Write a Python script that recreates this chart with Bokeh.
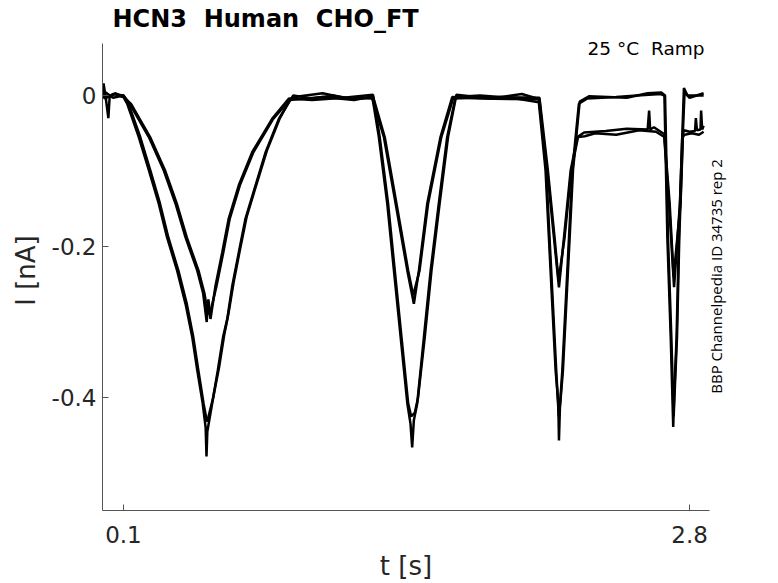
import math
from bokeh.plotting import figure
from bokeh.models import Range1d, FixedTicker, Label, LinearAxis
from bokeh.embed import file_html
from bokeh.resources import INLINE

# ---------------- data ----------------
title_text = "HCN3 \u00a0Human \u00a0CHO_FT"
cond_text = "25 °C \u00a0Ramp"
id_text = "BBP Channelpedia ID 34735 rep 2"
x_label = "t [s]"
y_label = "I [nA]"

x_ticks = [0.1, 2.8]
x_tick_labels = ["0.1", "2.8"]
y_ticks = [-0.4, -0.2, 0.0]
y_tick_labels = ["-0.4", "-0.2", "0"]

# deep traces (larger current)
deep_a_t = [0.000, 0.005, 0.015, 0.028, 0.034, 0.060, 0.100, 0.118, 0.173, 0.221, 0.268, 0.308,
            0.356, 0.396, 0.428, 0.452, 0.478, 0.492, 0.496, 0.500, 0.523, 0.550, 0.575, 0.595,
            0.619, 0.650, 0.682, 0.730, 0.778, 0.841, 0.889, 0.910, 1.000, 1.100, 1.200, 1.287,
            1.318, 1.358, 1.390, 1.422, 1.454, 1.469, 1.477, 1.485, 1.501, 1.533, 1.565, 1.604,
            1.644, 1.684, 1.800, 1.950, 2.081, 2.113, 2.129, 2.145, 2.161, 2.174, 2.177, 2.182,
            2.193, 2.209, 2.225, 2.241, 2.272, 2.312, 2.450, 2.550, 2.662, 2.680, 2.694, 2.710,
            2.722, 2.726, 2.738, 2.749, 2.765, 2.773, 2.790, 2.867]
deep_a_i = [0.000, 0.016, -0.002, -0.030, -0.002, 0.002, -0.002, -0.011, -0.055, -0.099, -0.143, -0.188,
            -0.232, -0.276, -0.320, -0.364, -0.408, -0.440, -0.478, -0.445, -0.408, -0.364, -0.320, -0.296,
            -0.252, -0.208, -0.163, -0.119, -0.075, -0.031, -0.009, 0.000, -0.004, 0.000, -0.005, -0.002,
            -0.055, -0.143, -0.232, -0.320, -0.408, -0.435, -0.466, -0.430, -0.408, -0.320, -0.232, -0.143,
            -0.055, -0.002, 0.000, -0.003, -0.009, -0.099, -0.188, -0.276, -0.364, -0.408, -0.457, -0.410,
            -0.364, -0.276, -0.188, -0.099, -0.011, -0.004, -0.002, 0.000, 0.002, 0.000, -0.188, -0.320,
            -0.439, -0.400, -0.320, -0.188, -0.055, 0.010, 0.000, 0.000]

deep_b_t = [0.000, 0.010, 0.050, 0.100, 0.124, 0.180, 0.228, 0.274, 0.314, 0.362, 0.402, 0.433,
            0.457, 0.482, 0.498, 0.506, 0.528, 0.556, 0.580, 0.600, 0.625, 0.655, 0.688, 0.735,
            0.784, 0.846, 0.893, 0.915, 1.050, 1.150, 1.290, 1.322, 1.362, 1.394, 1.426, 1.458,
            1.472, 1.490, 1.505, 1.537, 1.569, 1.608, 1.648, 1.688, 1.850, 2.000, 2.084, 2.116,
            2.132, 2.148, 2.164, 2.176, 2.184, 2.196, 2.212, 2.228, 2.244, 2.276, 2.320, 2.500,
            2.600, 2.665, 2.683, 2.697, 2.713, 2.724, 2.740, 2.751, 2.767, 2.776, 2.800, 2.867]
deep_b_i = [0.003, -0.004, 0.002, 0.000, -0.011, -0.055, -0.099, -0.143, -0.188, -0.232, -0.276, -0.320,
            -0.364, -0.408, -0.432, -0.425, -0.400, -0.360, -0.318, -0.290, -0.248, -0.205, -0.160, -0.117,
            -0.073, -0.030, -0.006, -0.002, 0.003, -0.003, 0.001, -0.055, -0.143, -0.232, -0.320, -0.408,
            -0.425, -0.420, -0.400, -0.320, -0.232, -0.143, -0.055, 0.001, -0.004, 0.002, -0.005, -0.099,
            -0.188, -0.276, -0.364, -0.425, -0.405, -0.364, -0.276, -0.188, -0.099, -0.008, -0.001, -0.003,
            0.003, 0.004, 0.000, -0.188, -0.320, -0.425, -0.320, -0.188, -0.055, 0.004, -0.003, 0.003]

# shallow traces (smaller current, settle below zero after the third ramp)
shallow_a_t = [0.000, 0.010, 0.050, 0.100, 0.130, 0.221, 0.292, 0.348, 0.396, 0.452, 0.480, 0.497,
               0.505, 0.515, 0.539, 0.571, 0.602, 0.650, 0.714, 0.809, 0.889, 1.000, 1.150, 1.287,
               1.342, 1.398, 1.454, 1.485, 1.509, 1.549, 1.612, 1.668, 1.800, 2.081, 2.121, 2.153,
               2.177, 2.201, 2.233, 2.265, 2.297, 2.400, 2.500, 2.600, 2.607, 2.612, 2.630, 2.678,
               2.702, 2.726, 2.754, 2.765, 2.773, 2.800, 2.826, 2.830, 2.835, 2.852, 2.855, 2.860,
               2.867]
shallow_a_i = [0.000, 0.005, -0.003, 0.000, -0.011, -0.055, -0.099, -0.143, -0.188, -0.232, -0.262, -0.300,
               -0.270, -0.296, -0.252, -0.208, -0.163, -0.119, -0.075, -0.031, -0.004, -0.006, -0.003, -0.004,
               -0.055, -0.143, -0.232, -0.276, -0.232, -0.143, -0.055, -0.002, -0.004, -0.005, -0.099, -0.188,
               -0.254, -0.188, -0.099, -0.055, -0.049, -0.047, -0.044, -0.045, -0.020, -0.045, -0.042, -0.051,
               -0.143, -0.254, -0.143, -0.055, -0.046, -0.048, -0.047, -0.030, -0.046, -0.045, -0.020, -0.045,
               -0.040]

shallow_b_t = [0.000, 0.020, 0.060, 0.100, 0.136, 0.227, 0.298, 0.354, 0.402, 0.458, 0.486, 0.500,
               0.512, 0.544, 0.576, 0.607, 0.655, 0.720, 0.814, 0.893, 1.050, 1.200, 1.290, 1.346,
               1.402, 1.458, 1.482, 1.512, 1.553, 1.616, 1.672, 1.900, 2.084, 2.124, 2.156, 2.175,
               2.204, 2.236, 2.268, 2.300, 2.350, 2.450, 2.560, 2.640, 2.680, 2.705, 2.724, 2.757,
               2.768, 2.776, 2.810, 2.845, 2.867]
shallow_b_i = [0.002, -0.003, 0.003, -0.002, -0.011, -0.055, -0.099, -0.143, -0.188, -0.232, -0.262, -0.285,
               -0.290, -0.252, -0.208, -0.163, -0.119, -0.075, -0.031, -0.006, -0.002, -0.006, -0.001, -0.055,
               -0.143, -0.232, -0.265, -0.232, -0.143, -0.055, -0.004, -0.002, -0.003, -0.099, -0.188, -0.245,
               -0.188, -0.099, -0.055, -0.054, -0.050, -0.052, -0.046, -0.048, -0.055, -0.143, -0.240, -0.143,
               -0.055, -0.052, -0.050, -0.052, -0.048]

traces = [(deep_a_t, deep_a_i), (deep_b_t, deep_b_i), (shallow_a_t, shallow_a_i), (shallow_b_t, shallow_b_i)]

# level on the right-hand side where the upward-reading ID note begins
id_anchor = -0.395
# drawn extent of the left axis (the frame reaches a little higher, for the top-right note)
y_axis_span = (-0.5497, 0.0689)

# ---------------- figure ----------------
p = figure(width=776, height=583, output_backend="svg", toolbar_location=None,
           x_range=Range1d(0.0, 2.895), y_range=Range1d(-0.5497, 0.0861),
           min_border_left=102, min_border_right=67, min_border_top=30, min_border_bottom=70)
p.outline_line_color = None
p.grid.visible = False
p.background_fill_color = "white"
p.border_fill_color = "white"

p.title.text = title_text
p.title.align = "left"
p.title.vertical_align = "bottom"
p.title.offset = 10
try:
    p.title.standoff = -5
except Exception:
    p.title.standoff = 0
p.title.text_font = "DejaVu Sans"
p.title.text_font_size = "24px"
p.title.text_font_style = "bold"
p.title.text_color = "black"

for t, i in traces:
    p.line(t, i, line_color="black", line_width=2.5)

for ax in (p.xaxis[0], p.yaxis[0]):
    ax.axis_line_color = "#555555"
    ax.axis_line_width = 1
    ax.major_tick_line_color = "#555555"
    ax.major_tick_in = 6
    ax.major_tick_out = 0
    ax.minor_tick_line_color = None
    ax.major_label_text_font = "DejaVu Sans"
    ax.major_label_text_font_size = "23px"
    ax.major_label_text_color = "#262626"
    ax.axis_label_text_font = "DejaVu Sans"
    ax.axis_label_text_font_size = "26px"
    ax.axis_label_text_font_style = "normal"
    ax.axis_label_text_color = "#262626"

p.xaxis.ticker = FixedTicker(ticks=x_ticks)
p.xaxis.major_label_overrides = dict(zip(x_ticks, x_tick_labels))
p.xaxis.major_label_standoff = 15
p.xaxis.axis_label = x_label
p.xaxis.axis_label_standoff = 5
p.yaxis.bounds = y_axis_span
p.yaxis.ticker = FixedTicker(ticks=y_ticks)
p.yaxis.major_label_overrides = dict(zip(y_ticks, y_tick_labels))
p.yaxis.major_label_standoff = 6
p.yaxis.axis_label = y_label
p.yaxis.axis_label_standoff = 8

# the ID note: the single tick label of an invisible axis on the right side, reading upwards
id_axis = LinearAxis(ticker=FixedTicker(ticks=[id_anchor]),
                     major_label_overrides={id_anchor: id_text},
                     major_label_orientation=math.pi / 2, major_label_standoff=7,
                     axis_line_color=None, major_tick_line_color=None, minor_tick_line_color=None,
                     major_tick_in=0, major_tick_out=0,
                     major_label_text_font="Open Sans", major_label_text_font_size="15px",
                     major_label_text_color="black")
p.add_layout(id_axis, "right")

p.add_layout(Label(x=602, y=462, x_units="screen", y_units="screen", text=cond_text,
                   text_font="DejaVu Sans", text_font_size="18.5px", text_color="black",
                   text_align="right", text_baseline="alphabetic"))

open("out.html", "w").write(file_html(p, INLINE))
